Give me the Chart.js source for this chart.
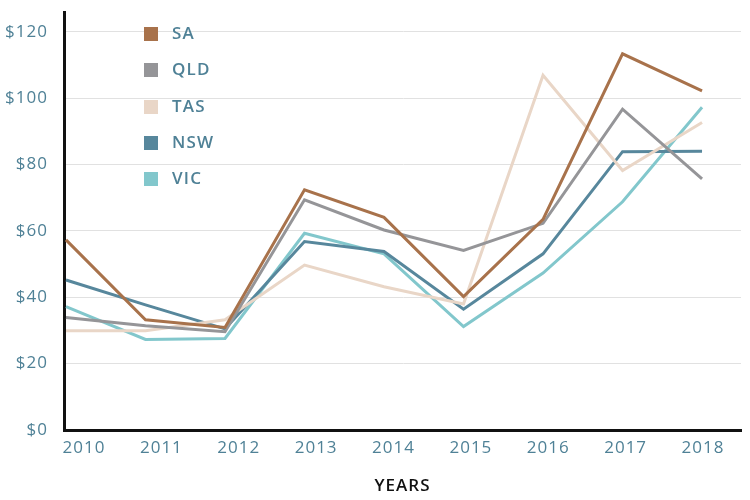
<!DOCTYPE html>
<html>
<head>
<meta charset="utf-8">
<script src="https://cdn.jsdelivr.net/npm/chart.js@4/dist/chart.umd.min.js"></script>
<style>
  html, body { margin: 0; padding: 0; background: #ffffff; }
  #wrap { position: relative; width: 750px; height: 500px; }
  #legend { position: absolute; left: 144px; top: 26px; font-family: "Open Sans", sans-serif; }
  .item { position: relative; height: 36.3px; }
  .box { position: absolute; left: 0; top: 1px; width: 14px; height: 14px; }
  .lbl { position: absolute; left: 28px; top: -5px; font-size: 17px; font-weight: 600; letter-spacing: 1.2px; color: #4f8196; line-height: 24px; }
</style>
</head>
<body>
<div id="wrap">
  <canvas id="c" width="750" height="500"></canvas>
  <div id="legend"></div>
</div>
<script>
const years = ["2010","2011","2012","2013","2014","2015","2016","2017","2018"];
const seriesNames = ["SA","QLD","TAS","NSW","VIC"];
const seriesColors = ["#a8724b","#959598","#e9d6c7","#57879c","#82c7cc"];
const SA  = [57.3, 33.2, 30.9, 72.4, 64.1, 40.2, 63.5, 113.4, 102.2];
const QLD = [33.9, 31.4, 29.6, 69.4, 60.3, 54.1, 62.3, 96.7, 75.7];
const TAS = [29.9, 29.9, 33.2, 49.7, 43.2, 38.0, 106.9, 78.2, 92.7];
const NSW = [45.2, 37.7, 30.5, 56.8, 53.8, 36.4, 53.1, 83.9, 84.0];
const VIC = [37.2, 27.3, 27.6, 59.3, 53.1, 31.2, 47.3, 68.8, 97.3];
const seriesValues = [SA, QLD, TAS, NSW, VIC];
const yTicks = [0, 20, 40, 60, 80, 100, 120];

const tickColor = "#4f8196";
const fontFamily = "'Open Sans', sans-serif";

const datasets = seriesNames.map((name, s) => ({
  label: name,
  data: seriesValues[s].map((v, i) => ({ x: i, y: v })),
  borderColor: seriesColors[s],
  backgroundColor: seriesColors[s],
  borderWidth: 3,
  pointRadius: 0,
  tension: 0,
  fill: false,
  order: s,
  xAxisID: "x",
  yAxisID: "y"
}));

const spacingPlugin = {
  id: "spacing",
  beforeDraw(chart) { chart.ctx.letterSpacing = "1px"; }
};

new Chart(document.getElementById("c"), {
  type: "line",
  data: { datasets },
  plugins: [spacingPlugin],
  options: {
    responsive: false,
    animation: false,
    layout: { padding: { left: 0, right: 9, top: 12, bottom: 0 } },
    plugins: { legend: { display: false }, tooltip: { enabled: false } },
    scales: {
      x: {
        type: "linear",
        display: false,
        min: -0.025,
        max: 8.49
      },
      xl: {
        type: "linear",
        position: "bottom",
        min: -0.2585,
        max: 8.491,
        grid: { display: false, drawTicks: false },
        border: { display: true, color: "#111111", width: 3 },
        afterBuildTicks: (scale) => { scale.ticks = years.map((_, i) => ({ value: i })); },
        afterFit: (scale) => { scale.height = 70; scale.paddingLeft = 0; scale.paddingRight = 0; },
        ticks: {
          color: tickColor,
          font: { family: fontFamily, size: 17 },
          padding: 8,
          maxRotation: 0,
          autoSkip: false,
          callback: (v) => years[v]
        },
        title: {
          display: true,
          text: "YEARS",
          color: "#111111",
          font: { family: fontFamily, size: 17, weight: "600" },
          padding: { top: 12 }
        }
      },
      y: {
        type: "linear",
        min: 0,
        max: 126,
        grid: { color: "#e1e1e1", lineWidth: 1, drawTicks: false },
        border: { display: true, color: "#111111", width: 3 },
        afterBuildTicks: (scale) => { scale.ticks = yTicks.map(v => ({ value: v })); },
        afterFit: (scale) => { scale.width = 64; scale.paddingTop = 0; scale.paddingBottom = 0; },
        ticks: {
          color: tickColor,
          font: { family: fontFamily, size: 17 },
          padding: 16,
          callback: (v) => "$" + v
        }
      }
    }
  }
});

const legend = document.getElementById("legend");
seriesNames.forEach((n, i) => {
  const it = document.createElement("div");
  it.className = "item";
  it.innerHTML = '<div class="box" style="background:' + seriesColors[i] + '"></div><div class="lbl">' + n + '</div>';
  legend.appendChild(it);
});
</script>
</body>
</html>
